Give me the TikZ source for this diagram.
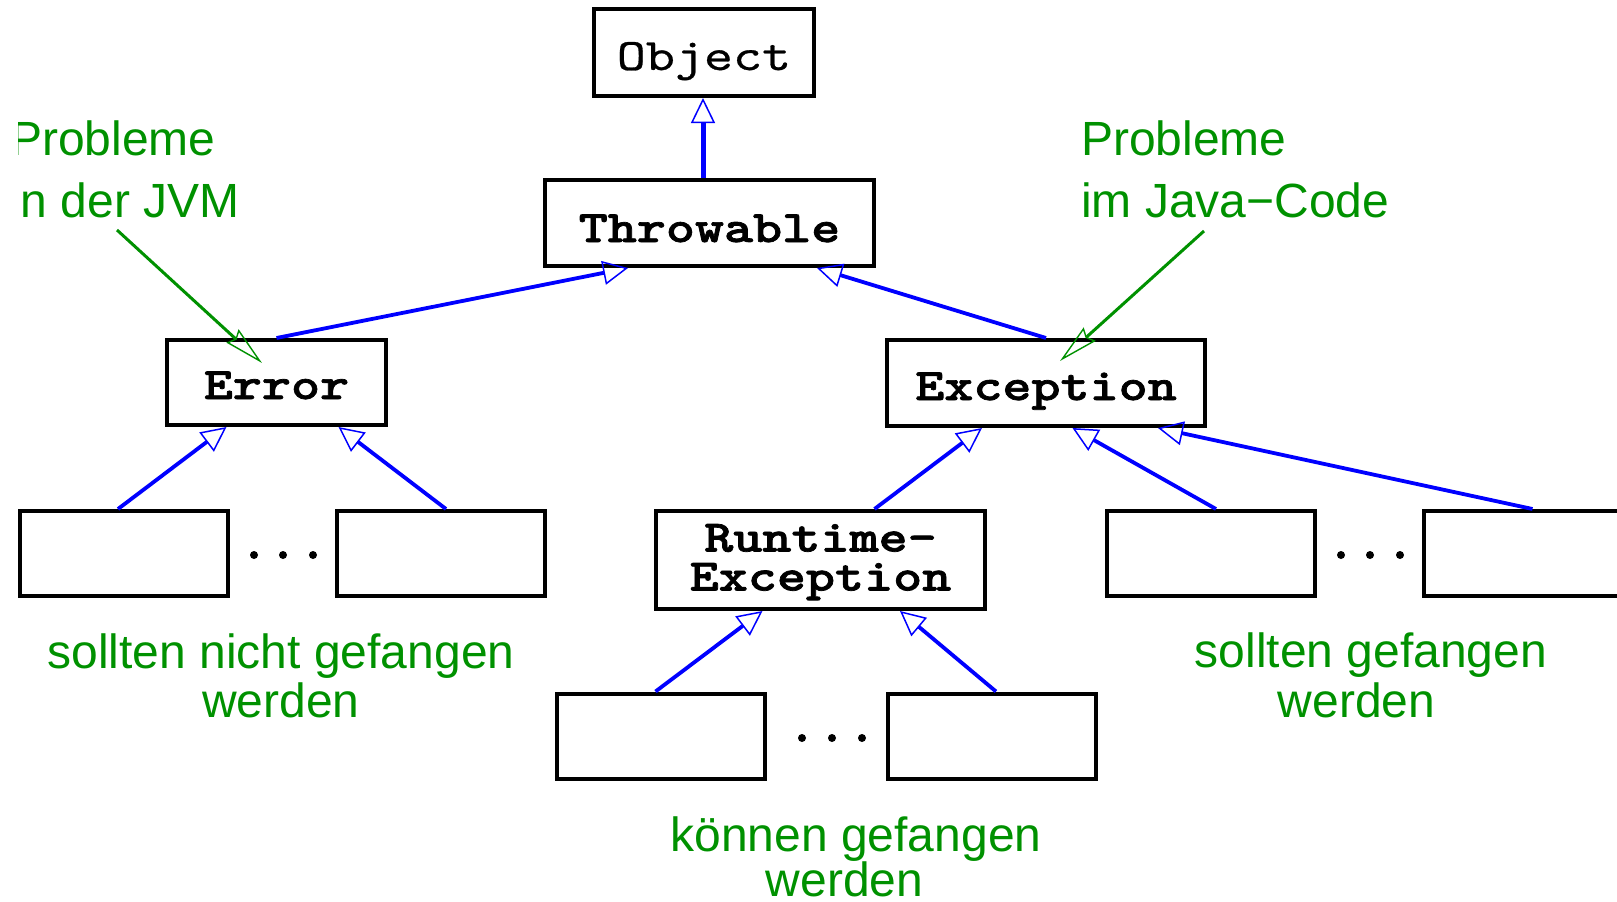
\documentclass[tikz,border=0pt]{standalone}
\usepackage{fontspec}
\setmainfont{Liberation Sans}
% typewriter faces for the class names, widened to Courier proportions
\newfontfamily\coderm{lmmono10-regular.otf}[FakeStretch=1.23, FakeBold=0.6]
\newfontfamily\codebf{lmmonolt10-bold.otf}[FakeStretch=1.23, FakeBold=1.6]
\usetikzlibrary{arrows.meta}
\definecolor{notegreen}{RGB}{0,145,0}
\definecolor{linkblue}{RGB}{0,0,255}

\tikzset{
  cls/.style={draw, line width=4pt, inner sep=0pt, text depth=0pt,
    font=\codebf\fontsize{45}{39}\selectfont},
  leaf/.style={draw, line width=4pt, inner sep=0pt,
    minimum width=208pt, minimum height=85pt},
  inherit/.style={linkblue, line width=3.8pt,
    -{Triangle[open, length=25pt, width=24pt, line width=1.5pt]}},
  hint/.style={notegreen, line width=3pt,
    -{Stealth[open, length=40pt, width=18pt, inset=4pt, line width=1.4pt]}},
  note/.style={notegreen, inner sep=0pt},
  dot/.style={fill=black}
}

\begin{document}
\begin{tikzpicture}[x=1pt, y=-1pt]
\useasboundingbox (0,0) rectangle (1617,902);

% class hierarchy
\node[cls, minimum width=220pt, minimum height=87pt, text height=35pt,
      font=\coderm\fontsize{45}{39}\selectfont] (obj) at (704,52.5) {Object};
\node[cls, minimum width=329pt, minimum height=86pt, text height=38pt] (thr) at (709.5,223) {Throwable};
\node[cls, minimum width=219pt, minimum height=85pt, text height=33pt] (err) at (276.5,382.5) {Error};
\node[cls, minimum width=318pt, minimum height=86pt, text height=34pt] (exc) at (1046,383) {Exception};
\node[cls, minimum width=329pt, minimum height=98pt, align=center, text height=69pt, text depth=8pt] (rt) at (820.5,560) {Runtime-\\Exception};

% unnamed subclasses
\node[leaf] (l1) at (124,553.5) {};
\node[leaf] (l2) at (441,553.5) {};
\node[leaf] (r1) at (1211,553.5) {};
\node[leaf] (r2) at (1528,553.5) {};
\node[leaf] (b1) at (660.5,736) {};
\node[leaf] (b2) at (992,736) {};

% ellipses between sibling boxes
\foreach \x/\y in {254/555, 283/555, 313/555, 1341/555, 1370/555, 1400/555, 802/738, 832/738, 862/738}
  \fill[dot] (\x,\y) circle (4pt);

% inheritance links
\draw[inherit, line width=5pt] ([xshift=-6.5pt]thr.north) -- ([xshift=-1pt]obj.south);
\draw[inherit] (err.north) -- ([xshift=-81.5pt]thr.south);
\draw[inherit] (exc.north) -- ([xshift=107.5pt]thr.south);
\draw[inherit] ([xshift=-6pt]l1.north) -- ([xshift=-50pt]err.south);
\draw[inherit] ([xshift=5pt]l2.north) -- ([xshift=62pt]err.south);
\draw[inherit] ([xshift=54pt]rt.north) -- ([xshift=-64pt]exc.south);
\draw[inherit] ([xshift=5pt]r1.north) -- ([xshift=26.5pt]exc.south);
\draw[inherit] ([xshift=4.5pt]r2.north) -- ([xshift=112pt]exc.south);
\draw[inherit] ([xshift=-5pt]b1.north) -- ([xshift=-58pt]rt.south);
\draw[inherit] ([xshift=4pt]b2.north) -- ([xshift=79.5pt]rt.south);

% annotations (the base anchor sits on the last line)
\begin{scope}
  \clip (18,0) rectangle (1617,902);
  \node[note, anchor=base west, align=left, font=\fontsize{48}{62}\selectfont] (jvm) at (10,217) {Probleme\\in der JVM};
\end{scope}
\node[note, anchor=base west, align=left, font=\fontsize{48}{62}\selectfont] (code) at (1081,217) {Probleme\\im Java−Code};

\coordinate (jvmfrom) at (117,230);
\coordinate (codefrom) at (1204,231);
\draw[hint] (jvmfrom) -- ([xshift=-14.5pt, yshift=-25pt]err.north);
\draw[hint] (codefrom) -- ([xshift=14pt, yshift=-23pt]exc.north);

\node[note, anchor=base, align=center, font=\fontsize{48}{49}\selectfont] (nocatch) at (281,717) {sollten nicht gefangen\\werden};
\node[note, anchor=base, align=center, font=\fontsize{48}{50}\selectfont] (shouldcatch) at (1371,717) {sollten gefangen\\werden\hspace*{29pt}};
\node[note, anchor=base, align=center, font=\fontsize{48}{45}\selectfont] (cancatch) at (856,896) {können gefangen\\werden\hspace*{23pt}};
\end{tikzpicture}
\end{document}
